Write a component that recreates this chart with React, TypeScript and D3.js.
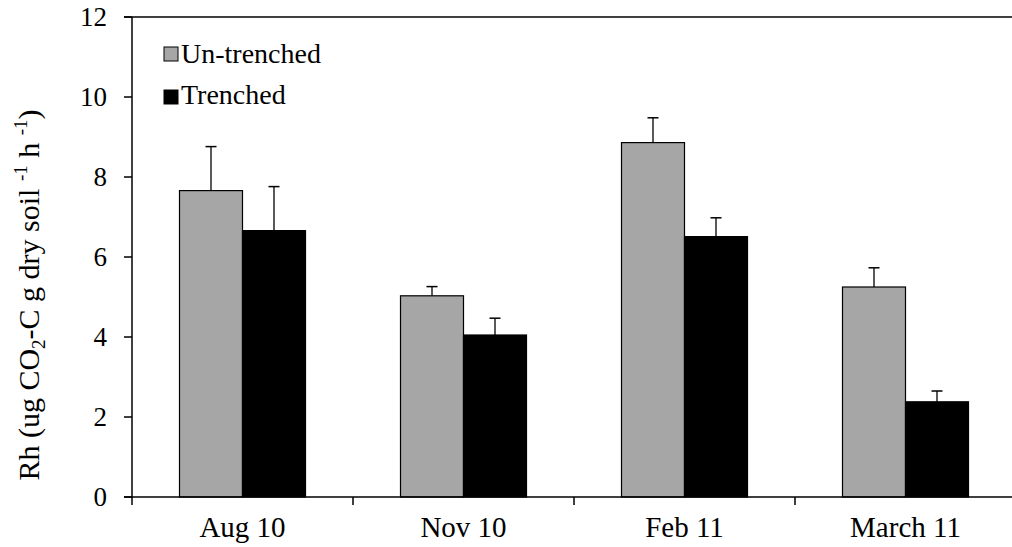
import React from "react";
import * as d3 from "d3";

const categories = ["Aug 10", "Nov 10", "Feb 11", "March 11"];
const series = ["Un-trenched", "Trenched"];
const untrenched = [7.66, 5.03, 8.86, 5.25];
const untrenchedErr = [1.1, 0.23, 0.62, 0.48];
const trenched = [6.66, 4.05, 6.51, 2.38];
const trenchedErr = [1.1, 0.42, 0.47, 0.27];
const yTicks = [0, 2, 4, 6, 8, 10, 12];
const colors = ["#A6A6A6", "#000000"];

export default function App() {
  const W = 1012, H = 547;
  const left = 132, right = 1016, top = 17, bottom = 497;
  const x = d3.scaleBand().domain(categories).range([left, right]).paddingInner(0).paddingOuter(0);
  const y = d3.scaleLinear().domain([0, 12]).range([bottom, top]);
  const groupFrac = 126 / 221;
  const barW = (x.bandwidth() * groupFrac) / 2;
  const vals = [untrenched, trenched];
  const errs = [untrenchedErr, trenchedErr];
  const font = "'Liberation Serif', 'Times New Roman', Times, serif";
  const boundaries = [...categories.map((c) => x(c)!), right];

  return (
    <svg width={W} height={H} style={{ position: "absolute", left: 0, top: 0, fontFamily: font }}>
      <rect x={0} y={0} width={W} height={H} fill="#fff" />
      {categories.map((c, i) => {
        const cx = x(c)! + x.bandwidth() / 2;
        return (
          <g key={c}>
            {vals.map((v, s) => {
              const bx = cx - barW + s * barW;
              const ex = bx + barW / 2;
              const yv = y(v[i]);
              const ye = y(v[i] + errs[s][i]);
              return (
                <g key={s}>
                  <line x1={ex} x2={ex} y1={yv} y2={ye} stroke="#000" strokeWidth={1.3} />
                  <line x1={ex - 5.5} x2={ex + 5.5} y1={ye} y2={ye} stroke="#000" strokeWidth={1.5} />
                  <rect x={bx} y={yv} width={barW} height={bottom - yv} fill={colors[s]} stroke="#000" strokeWidth={1.2} />
                </g>
              );
            })}
          </g>
        );
      })}
      <line x1={left} x2={left} y1={top} y2={bottom} stroke="#000" strokeWidth={1.5} />
      <line x1={left - 8} x2={right} y1={top} y2={top} stroke="#000" strokeWidth={1.5} />
      <line x1={left - 8} x2={right} y1={bottom} y2={bottom} stroke="#000" strokeWidth={1.5} />
      {yTicks.map((t) => (
        <g key={t}>
          <line x1={left - 8} x2={left} y1={y(t)} y2={y(t)} stroke="#000" strokeWidth={1.5} />
          <text x={107} y={y(t)} dy="0.35em" textAnchor="end" fontSize={27}>
            {t}
          </text>
        </g>
      ))}
      {boundaries.map((b, i) => (
        <line key={i} x1={b} x2={b} y1={bottom} y2={bottom + 8} stroke="#000" strokeWidth={1.5} />
      ))}
      {categories.map((c) => (
        <text key={c} x={x(c)! + x.bandwidth() / 2} y={537} textAnchor="middle" fontSize={29}>
          {c}
        </text>
      ))}
      {series.map((s, i) => (
        <g key={s}>
          <rect x={164} y={47 + i * 43} width={14} height={14} fill={colors[i]} stroke="#000" strokeWidth={1} />
          <text x={181} y={63 + i * 41} fontSize={28}>
            {s}
          </text>
        </g>
      ))}
      <text transform={`translate(39, 295) rotate(-90)`} textAnchor="middle" fontSize={30}>
        Rh (ug CO
        <tspan fontSize={19} dy={6}>2</tspan>
        <tspan dy={-6}>-C g dry soil </tspan>
        <tspan fontSize={19} dy={-12}>-1</tspan>
        <tspan dy={12}> h </tspan>
        <tspan fontSize={19} dy={-12}>-1</tspan>
        <tspan dy={12}>)</tspan>
      </text>
    </svg>
  );
}
